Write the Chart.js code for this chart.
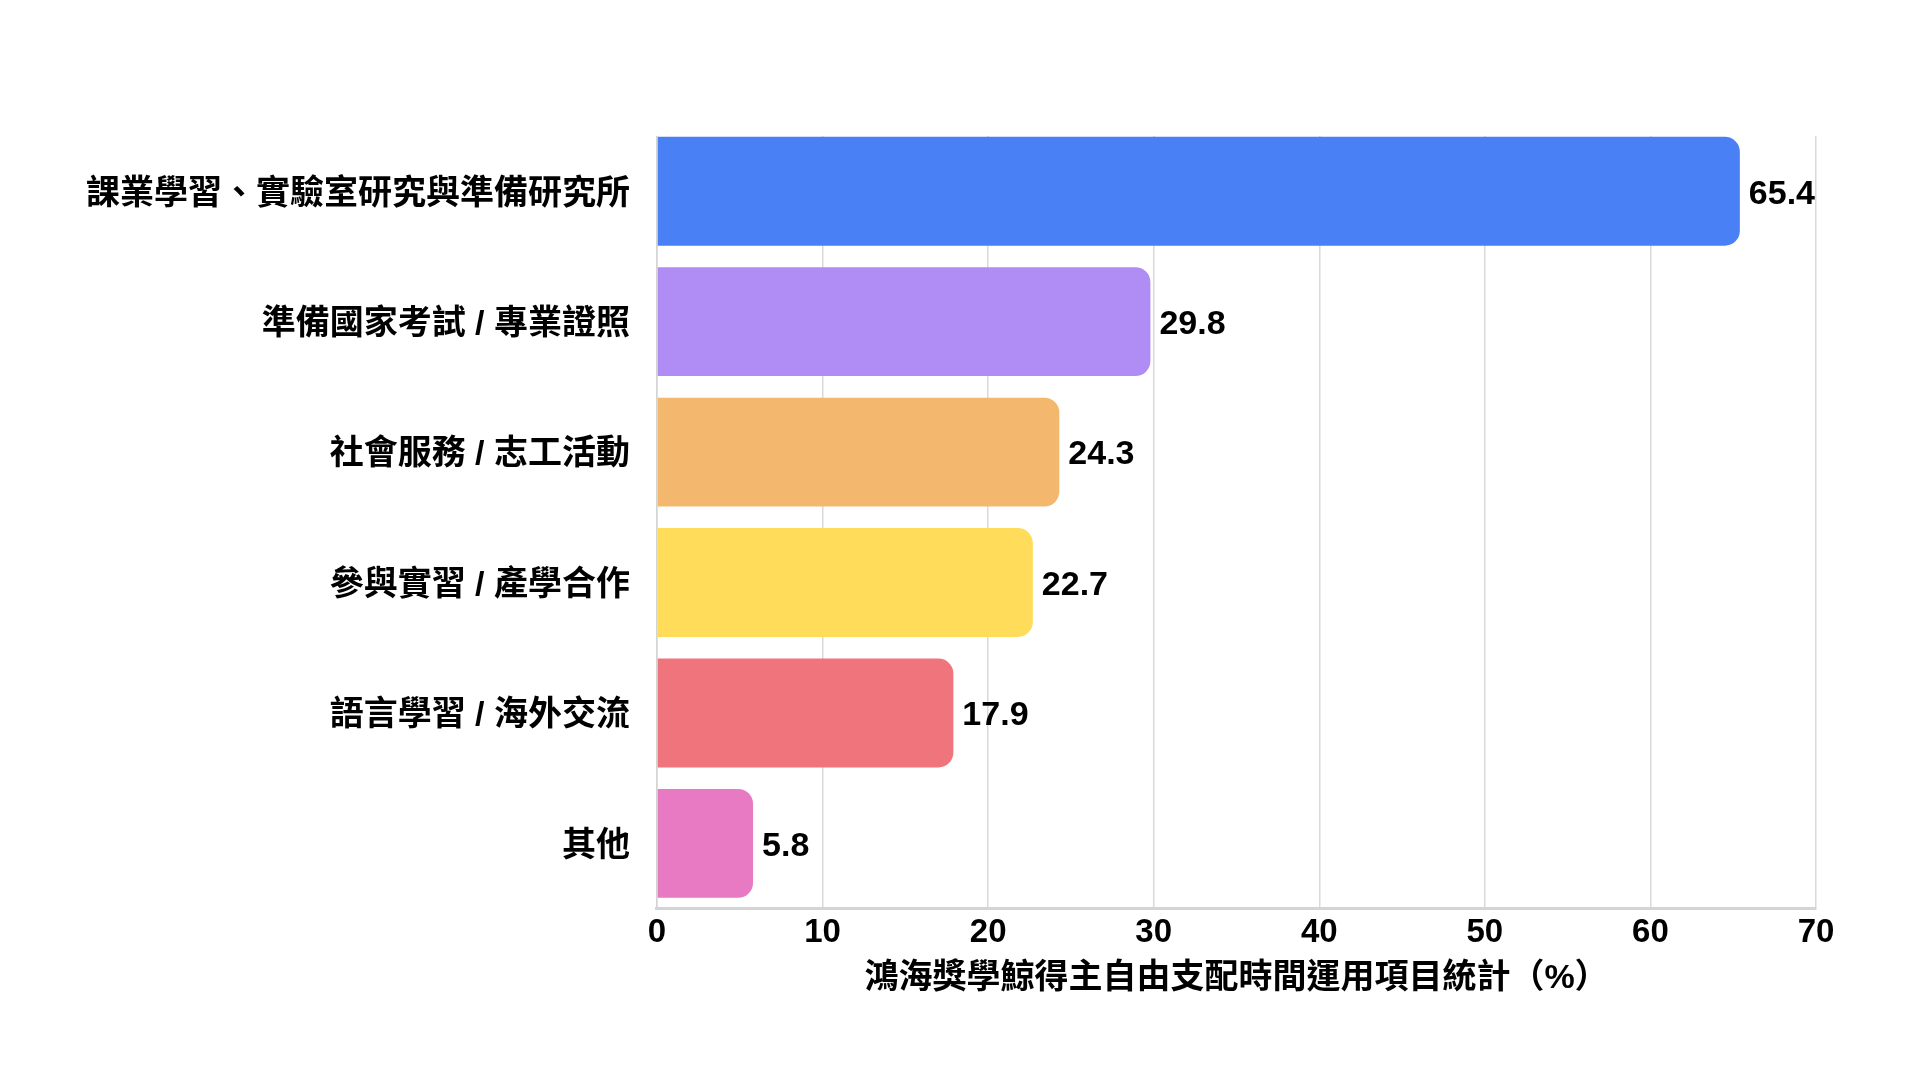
<!DOCTYPE html>
<html lang="zh-Hant">
<head>
<meta charset="utf-8">
<title>鴻海獎學金得主自由支配時間運用項目統計</title>
<script src="https://cdn.jsdelivr.net/npm/chart.js@4.4.1/dist/chart.umd.min.js"></script>
<style>
  html, body { margin: 0; padding: 0; background: #fff; }
  #wrap { width: 1920px; height: 1080px; }
</style>
</head>
<body>
<div id="wrap"><canvas id="usageChart" width="1920" height="1080"></canvas></div>
<script>
const categories = [
    '課業學習、實驗室研究與準備研究所',
    '準備國家考試 / 專業證照',
    '社會服務 / 志工活動',
    '參與實習 / 產學合作',
    '語言學習 / 海外交流',
    '其他'
];
const percentValues = [65.4, 29.8, 24.3, 22.7, 17.9, 5.8];
const barColors = ['#4a80f6', '#af8df5', '#f3b86e', '#ffdd5a', '#f0747c', '#e879c3'];
const xTicks = [0, 10, 20, 30, 40, 50, 60, 70];

const FONT = "'Liberation Sans', 'Noto Sans CJK TC', sans-serif";
const BAR_PCT = 0.835;

// gridlines and the y border start at the top edge of the first bar, not at the top of the plot
const trimGridTop = {
    id: 'trimGridTop',
    afterDraw(chart) {
        const area = chart.chartArea;
        const slot = (area.bottom - area.top) / categories.length;
        const gap = Math.floor(slot * (1 - BAR_PCT) / 2);
        const c = chart.ctx;
        c.save();
        c.fillStyle = '#ffffff';
        c.fillRect(Math.round(area.left) - 3, Math.round(area.top) - 4, Math.round(area.right - area.left) + 10, gap + 4);
        c.restore();
    }
};

// draws the value just past the end of each bar
const valueLabels = {
    id: 'valueLabels',
    afterDatasetsDraw(chart) {
        const c = chart.ctx;
        const meta = chart.getDatasetMeta(0);
        c.save();
        c.font = 'bold 34px ' + FONT;
        c.fillStyle = '#000';
        c.textAlign = 'left';
        c.textBaseline = 'middle';
        meta.data.forEach(function (bar, i) {
            c.fillText(percentValues[i].toFixed(1), bar.x + 9, bar.y + 3);
        });
        c.restore();
    }
};

const canvas = document.getElementById('usageChart');

new Chart(canvas, {
    type: 'bar',
    data: {
        labels: categories,
        datasets: [{
            data: percentValues,
            backgroundColor: barColors,
            borderRadius: 15,
            borderSkipped: 'start',
            barPercentage: BAR_PCT,
            categoryPercentage: 1.0
        }]
    },
    options: {
        indexAxis: 'y',
        responsive: false,
        animation: false,
        layout: {
            padding: { top: 126, right: 104, bottom: 81, left: 67 }
        },
        scales: {
            x: {
                min: 0,
                max: 70,
                afterBuildTicks: function (axis) {
                    axis.ticks = xTicks.map(function (v) { return { value: v }; });
                },
                grid: { color: '#d9d9d9', lineWidth: 1.5, drawTicks: false },
                border: { display: true, color: '#d4d4d4', width: 3 },
                ticks: {
                    padding: 5,
                    color: '#000',
                    font: { family: FONT, size: 33, weight: 'bold' }
                },
                title: {
                    display: true,
                    text: '鴻海獎學鯨得主自由支配時間運用項目統計（%）',
                    color: '#000',
                    padding: { top: 0, bottom: 0 },
                    font: { family: FONT, size: 34, weight: 'bold' }
                }
            },
            y: {
                grid: { display: false },
                border: { display: true, color: '#d4d4d4', width: 1.5 },
                ticks: {
                    padding: 19,
                    labelOffset: 3,
                    color: '#000',
                    font: { family: FONT, size: 34, weight: 'bold' }
                }
            }
        },
        plugins: {
            legend: { display: false },
            tooltip: { enabled: false }
        }
    },
    plugins: [trimGridTop, valueLabels]
});
</script>
</body>
</html>
